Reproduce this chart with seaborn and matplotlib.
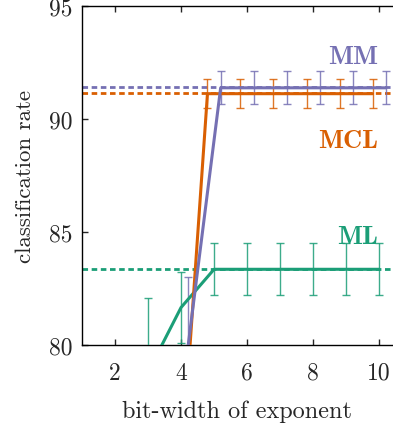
import matplotlib
matplotlib.use("Agg")
import matplotlib.pyplot as plt
import seaborn as sns
import pandas as pd

# ---- data ----
bits_ml = [3, 4, 5, 6, 7, 8, 9, 10]
ml_mean = [78.8, 81.66, 83.35, 83.35, 83.35, 83.35, 83.35, 83.35]
ml_err = [3.3, 1.55, 1.15, 1.15, 1.15, 1.15, 1.15, 1.15]

bits_m = [4, 5, 6, 7, 8, 9, 10]
mcl_mean = [70.0, 91.12, 91.12, 91.12, 91.12, 91.12, 91.12]
mcl_err = [1.0, 0.63, 0.63, 0.63, 0.63, 0.63, 0.63]
mm_mean = [79.8, 91.38, 91.38, 91.38, 91.38, 91.38, 91.38]
mm_err = [3.2, 0.73, 0.73, 0.73, 0.73, 0.73, 0.73]

baseline = {"ML": 83.35, "MCL": 91.17, "MM": 91.42}
offsets = {"ML": 0.0, "MCL": -0.2, "MM": 0.2}
colors = {"ML": "#1b9e77", "MCL": "#d95f02", "MM": "#7570b3"}

x_ticks = [2, 4, 6, 8, 10]
y_ticks = [80, 85, 90, 95]

sns.set_style("ticks")
plt.rcParams["font.family"] = ["cmr10", "DejaVu Serif"]
plt.rcParams["mathtext.fontset"] = "cm"
plt.rcParams["axes.formatter.use_mathtext"] = True

fig = plt.figure(figsize=(3.93, 4.31), dpi=100)
ax = fig.add_axes([82 / 393, 1 - 346 / 431, 1 - 82 / 393, (346 - 7) / 431])

series = {
    "ML": (bits_ml, ml_mean, ml_err),
    "MCL": (bits_m, mcl_mean, mcl_err),
    "MM": (bits_m, mm_mean, mm_err),
}

for name in ["ML", "MCL", "MM"]:
    b, m, e = series[name]
    xs = [v + offsets[name] for v in b]
    df = pd.DataFrame({"x": xs, "y": m})
    ax.axhline(baseline[name], color=colors[name], lw=2.0, ls=(0, (2.0, 1.3)), zorder=2)
    ax.errorbar(xs, m, yerr=e, fmt="none", ecolor=colors[name], elinewidth=1.0,
                capsize=3, capthick=1.0, alpha=0.85, zorder=3)
    sns.lineplot(data=df, x="x", y="y", ax=ax, color=colors[name], lw=2.2, zorder=4)

lab_font = ["cmb10", "DejaVu Serif"]
ax.text(9.2, 92.75, "MM", color=colors["MM"], fontsize=19, family=lab_font,
        ha="center", va="center", fontweight="bold")
ax.text(9.06, 89.05, "MCL", color=colors["MCL"], fontsize=19, family=lab_font,
        ha="center", va="center", fontweight="bold")
ax.text(9.36, 84.8, "ML", color=colors["ML"], fontsize=19, family=lab_font,
        ha="center", va="center", fontweight="bold")

ax.set_xlim(1, 10.42)
ax.set_ylim(80, 95)
ax.set_xticks(x_ticks)
ax.set_yticks(y_ticks)
ax.set_xticklabels([str(t) for t in x_ticks])
ax.set_yticklabels([str(t) for t in y_ticks])
ax.tick_params(direction="in", top=True, right=False, labelsize=17, length=4, width=1)
ax.tick_params(axis="x", pad=12)
ax.tick_params(axis="y", pad=7)
ax.spines["right"].set_visible(False)
for s in ["left", "bottom", "top"]:
    ax.spines[s].set_linewidth(1.0)
    ax.spines[s].set_color("black")
ax.set_xlabel("bit-width of exponent", fontsize=17.5, labelpad=11)
ax.set_ylabel("classification rate", fontsize=16.5, labelpad=10)

fig.savefig("out.png", dpi=100)
